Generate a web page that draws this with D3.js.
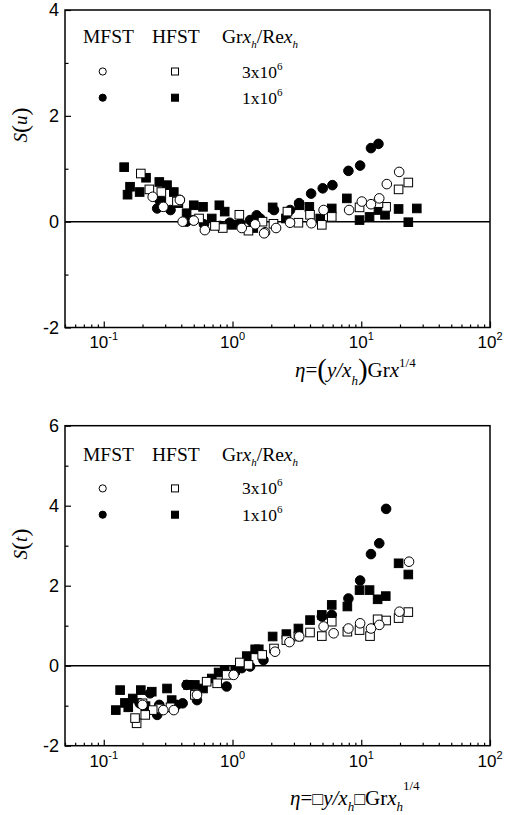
<!DOCTYPE html>
<html>
<head>
<meta charset="utf-8">
<script src="https://cdn.jsdelivr.net/npm/d3@7"></script>
<style>
  html, body { margin: 0; padding: 0; background: #fff; }
  svg { display: block; }
</style>
</head>
<body>
<div id="chart"></div>
<script>
// ---------------- DATA ----------------
// x = eta, y = skewness
const xMajorTicks = [0.1, 1, 10, 100];
const xTickExponents = ["-1", "0", "1", "2"];
const topYTicks = [-2, -1, 0, 1, 2, 3, 4];
const topYLabels = [-2, 0, 2, 4];
const botYTicks = [-2, -1, 0, 1, 2, 3, 4, 5, 6];
const botYLabels = [-2, 0, 2, 4, 6];
const legendHeaders = ["MFST", "HFST"];
const legendValues = [["3x10", "6"], ["1x10", "6"]];

// Top panel S(u)
const topMF3 = [[19.7,0.94],[15.8,0.71],[13.8,0.44],[11.9,0.33],[10.1,0.38],[8.05,0.22],[5.1,0.22],[4.1,-0.03],[2.8,-0.02],[2.18,-0.12],[1.79,-0.20],[1.76,-0.22],[1.5,-0.05],[1.18,-0.12],[0.61,-0.16],[0.5,0.02],[0.41,0.0],[0.39,0.41],[0.24,0.47],[0.29,0.28]];
const topMF1 = [[13.6,1.47],[11.9,1.39],[9.8,1.06],[7.95,0.96],[5.97,0.69],[5.02,0.63],[4.08,0.53],[3.29,0.35],[2.8,0.22],[2.1,0.22],[1.64,0.06],[1.54,0.12],[1.37,0.03],[1.15,-0.03],[0.95,-0.02],[0.8,-0.08],[0.6,-0.05],[0.5,0.03],[0.44,0.0],[0.33,0.22],[0.26,0.25],[0.27,0.41],[0.39,0.41]];
const topHF3 = [[23.2,0.74],[19.5,0.61],[15.6,0.28],[13.6,0.35],[9.7,0.27],[5.9,0.09],[4.94,-0.06],[4.0,0.13],[3.25,-0.02],[2.67,0.19],[2.08,-0.04],[1.71,0.0],[1.33,-0.17],[1.13,0.13],[0.84,-0.12],[0.73,-0.08],[0.55,0.06],[0.37,0.38],[0.28,0.56],[0.226,0.61],[0.194,0.91]];
const topHF1 = [[0.144,1.03],[0.16,0.66],[0.153,0.51],[0.19,0.56],[0.213,0.83],[0.27,0.75],[0.31,0.69],[0.35,0.56],[0.28,0.38],[0.38,0.35],[0.50,0.31],[0.59,0.28],[0.79,0.31],[0.87,0.19],[0.44,0.16],[0.69,0.06],[0.99,-0.06],[1.45,-0.12],[2.05,0.27],[2.6,0.06],[3.3,0.31],[3.95,0.28],[4.8,0.06],[5.9,0.25],[7.73,0.44],[9.7,0.03],[11.6,0.09],[13.6,0.22],[15.3,0.13],[19.5,0.24],[23.2,-0.01],[27,0.25]];

// Bottom panel S(t)
const botMF3 = [[23.5,2.6],[19.8,1.35],[13.8,1.02],[11.9,0.93],[9.8,1.06],[7.95,0.93],[6.1,0.81],[5.1,0.98],[3.3,0.73],[2.77,0.59],[2.14,0.35],[1.02,-0.23],[0.53,-0.73],[0.2,-0.98],[0.29,-1.11],[0.35,-1.11]];
const botMF1 = [[15.6,3.92],[13.8,3.06],[11.9,2.79],[9.8,2.13],[7.95,1.68],[5.9,1.27],[4.94,1.23],[1.74,0.14],[1.37,-0.02],[1.18,-0.06],[0.90,-0.52],[0.53,-0.86],[0.44,-0.48],[0.41,-0.94],[0.37,-0.98],[0.27,-0.98],[0.26,-1.23],[0.229,-0.69],[0.19,-0.94]];
const botHF3 = [[23.2,1.34],[19.5,1.19],[15.6,1.13],[13.4,1.16],[11.7,0.74],[9.7,0.89],[7.8,0.85],[5.9,1.1],[4.94,0.74],[4.0,0.83],[3.25,0.73],[2.62,0.64],[2.1,0.43],[1.7,0.27],[1.33,0.02],[1.14,0.08],[0.9,-0.23],[0.76,-0.44],[0.63,-0.4],[0.51,-0.73],[0.33,-1.04],[0.27,-1.07],[0.24,-1.11],[0.21,-1.23],[0.2,-0.94],[0.18,-1.44],[0.175,-1.31]];
const botHF1 = [[19.5,2.56],[23.2,2.28],[9.7,1.89],[11.6,1.89],[13.4,1.66],[15.5,1.74],[7.8,1.48],[5.9,1.52],[4.94,1.27],[4.0,1.14],[3.25,0.93],[2.62,0.79],[2.05,0.73],[1.5,0.41],[1.6,0.41],[1.29,0.24],[1.05,-0.11],[0.87,-0.11],[0.78,-0.17],[0.69,-0.32],[0.59,-0.57],[0.51,-0.48],[0.45,-0.48],[0.337,-0.86],[0.31,-0.57],[0.236,-0.65],[0.211,-1.01],[0.194,-0.61],[0.168,-0.82],[0.155,-1.04],[0.146,-0.93],[0.124,-1.11],[0.134,-0.61]];

// ---------------- DRAW ----------------
const W = 505, H = 815;
const SERIF = "'Liberation Serif','Times New Roman',serif";
const SANS = "'Liberation Sans',Arial,sans-serif";
const svg = d3.select("#chart").append("svg").attr("width", W).attr("height", H);

const x = d3.scaleLog().domain([0.05, 100]).range([65, 490]);
const minorX = [];
[0.01, 0.1, 1, 10].forEach(d => { for (let k = 2; k <= 9; k++) { const v = d * k; if (v >= 0.05 && v <= 100) minorX.push(v); } });

function rich(sel, parts, base) {
  let cur = 0;
  parts.forEach(p => {
    const sh = p.sh || 0;
    sel.append("tspan")
      .attr("dy", sh - cur)
      .style("font-style", p.i ? "italic" : "normal")
      .style("font-size", (p.s || base) + "px")
      .text(p.t);
    cur = sh;
  });
}

function panel(cfg) {
  const y = d3.scaleLinear().domain(cfg.yDomain).range(cfg.yRange);
  const g = svg.append("g");
  const [x0, x1] = x.range();
  const yb = cfg.yRange[0], yt = cfg.yRange[1];

  // zero line
  g.append("line").attr("x1", x0).attr("x2", x1).attr("y1", y(0)).attr("y2", y(0))
    .attr("stroke", "#000").attr("stroke-width", 1.5);

  // axes (inward ticks)
  const axB = g.append("g").attr("transform", `translate(0,${yb})`)
    .call(d3.axisBottom(x).tickValues(xMajorTicks).tickSize(-6).tickFormat(""));
  const axBm = g.append("g").attr("transform", `translate(0,${yb})`)
    .call(d3.axisBottom(x).tickValues(minorX).tickSize(-3).tickFormat(""));
  const axL = g.append("g").attr("transform", `translate(${x0},0)`)
    .call(d3.axisLeft(y).tickValues(cfg.yLabels).tickSize(-6).tickFormat(""));
  const axLm = g.append("g").attr("transform", `translate(${x0},0)`)
    .call(d3.axisLeft(y).tickValues(cfg.yTicks.filter(v => !cfg.yLabels.includes(v))).tickSize(-3.5).tickFormat(""));
  [axB, axBm, axL, axLm].forEach(a => {
    a.select(".domain").remove();
    a.selectAll("line").attr("stroke", "#000").attr("stroke-width", 1.2);
  });

  // frame
  g.append("rect").attr("x", x0).attr("y", yt).attr("width", x1 - x0).attr("height", yb - yt)
    .attr("fill", "none").attr("stroke", "#000").attr("stroke-width", 1.5);

  // x tick labels
  xMajorTicks.forEach((v, i) => {
    const t = g.append("text").attr("x", x(v)).attr("y", cfg.xLabelY)
      .attr("text-anchor", "middle").style("font-family", SANS).style("font-size", "17px");
    rich(t, [{ t: "10" }, { t: xTickExponents[i], s: 11, sh: -8 }], 17);
  });
  // y tick labels
  cfg.yLabels.forEach(v => {
    g.append("text").attr("x", 59).attr("y", y(v)).attr("dy", "0.36em")
      .attr("text-anchor", "end").style("font-family", SANS).style("font-size", "18px").text(v);
  });

  // y axis title
  const yt_ = g.append("text").attr("transform", `translate(${cfg.yTitle[0]},${cfg.yTitle[1]}) rotate(-90)`)
    .attr("text-anchor", "middle").attr("dy", "0.33em").style("font-family", SERIF).style("font-size", "19px");
  rich(yt_, [{ t: "S", i: true }, { t: "(", s: 24, sh: 1 }, { t: cfg.yVar, i: true, sh: 0 }, { t: ")", s: 24, sh: 1 }], 19);

  // x axis title
  const xt = g.append("text").attr("x", cfg.xTitle[0]).attr("y", cfg.xTitle[1])
    .style("font-family", SERIF).style("font-size", "21px");
  rich(xt, cfg.xTitleParts, 21);

  // data
  const series = [
    { data: cfg.HF1, shape: "square", fill: "#000" },
    { data: cfg.MF1, shape: "circle", fill: "#000" },
    { data: cfg.HF3, shape: "square", fill: "#fff" },
    { data: cfg.MF3, shape: "circle", fill: "#fff" }
  ];
  series.forEach(s => {
    const sg = g.append("g");
    if (s.shape === "circle") {
      sg.selectAll("circle").data(s.data).join("circle")
        .attr("cx", d => x(d[0])).attr("cy", d => y(d[1])).attr("r", 4.8)
        .attr("fill", s.fill).attr("stroke", "#000").attr("stroke-width", 1);
    } else {
      sg.selectAll("rect").data(s.data).join("rect")
        .attr("x", d => x(d[0]) - 4.3).attr("y", d => y(d[1]) - 4.3)
        .attr("width", 8.6).attr("height", 8.6)
        .attr("fill", s.fill).attr("stroke", "#000").attr("stroke-width", 1);
    }
  });

  // legend
  const T = yt;
  const lg = g.append("g").style("font-family", SERIF);
  lg.append("text").attr("x", 83).attr("y", T + cfg.legHead).style("font-size", "19.5px").text(legendHeaders[0]);
  lg.append("text").attr("x", 152).attr("y", T + cfg.legHead).style("font-size", "19.5px").text(legendHeaders[1]);
  const hd = lg.append("text").attr("x", 222).attr("y", T + cfg.legHead).style("font-size", "19.5px");
  rich(hd, [{ t: "Gr" }, { t: "x", i: true }, { t: "h", i: true, s: 11, sh: 5 }, { t: "/Re", sh: 0 }, { t: "x", i: true }, { t: "h", i: true, s: 11, sh: 5 }], 19.5);
  const rows = [cfg.legRow1, cfg.legRow2];
  rows.forEach((ry, i) => {
    const fill = i === 0 ? "#fff" : "#000";
    lg.append("circle").attr("cx", 102.7).attr("cy", T + ry).attr("r", 3.6)
      .attr("fill", fill).attr("stroke", "#000").attr("stroke-width", 1);
    lg.append("rect").attr("x", 175 - 3.5).attr("y", T + ry - 3.5).attr("width", 7).attr("height", 7)
      .attr("fill", fill).attr("stroke", "#000").attr("stroke-width", 1);
    const vt = lg.append("text").attr("x", 242).attr("y", T + ry + 6).style("font-size", "17.5px");
    rich(vt, [{ t: legendValues[i][0] }, { t: legendValues[i][1], s: 11, sh: -8 }], 17.5);
  });
}

panel({
  yDomain: [-2, 4], yRange: [327.5, 10], yTicks: topYTicks, yLabels: topYLabels,
  xLabelY: 348, yTitle: [27, 125], yVar: "u",
  xTitle: [295, 377],
  xTitleParts: [{ t: "η", i: true }, { t: "=" }, { t: "(", s: 29, sh: 2 }, { t: "y/x", i: true, sh: 0 }, { t: "h", i: true, s: 13, sh: 8 }, { t: ")", s: 29, sh: 2 }, { t: "Gr", sh: 0 }, { t: "x", i: true }, { t: "1/4", s: 13, sh: -10 }],
  legHead: 33, legRow1: 61.5, legRow2: 87.7,
  MF3: topMF3, MF1: topMF1, HF3: topHF3, HF1: topHF1
});

panel({
  yDomain: [-2, 6], yRange: [745.7, 425.7], yTicks: botYTicks, yLabels: botYLabels,
  xLabelY: 767, yTitle: [27, 544], yVar: "t",
  xTitle: [290, 805],
  xTitleParts: [{ t: "η", i: true }, { t: "=" }, { t: "\u25A1", s: 18 }, { t: "y/x", i: true }, { t: "h", i: true, s: 13, sh: 6 }, { t: "\u25A1", s: 18, sh: 0 }, { t: "Gr" }, { t: "x", i: true }, { t: "h", i: true, s: 13, sh: 6 }, { t: "1/4", s: 13, sh: -15 }],
  legHead: 35, legRow1: 62.7, legRow2: 89,
  MF3: botMF3, MF1: botMF1, HF3: botHF3, HF1: botHF1
});
</script>
</body>
</html>
